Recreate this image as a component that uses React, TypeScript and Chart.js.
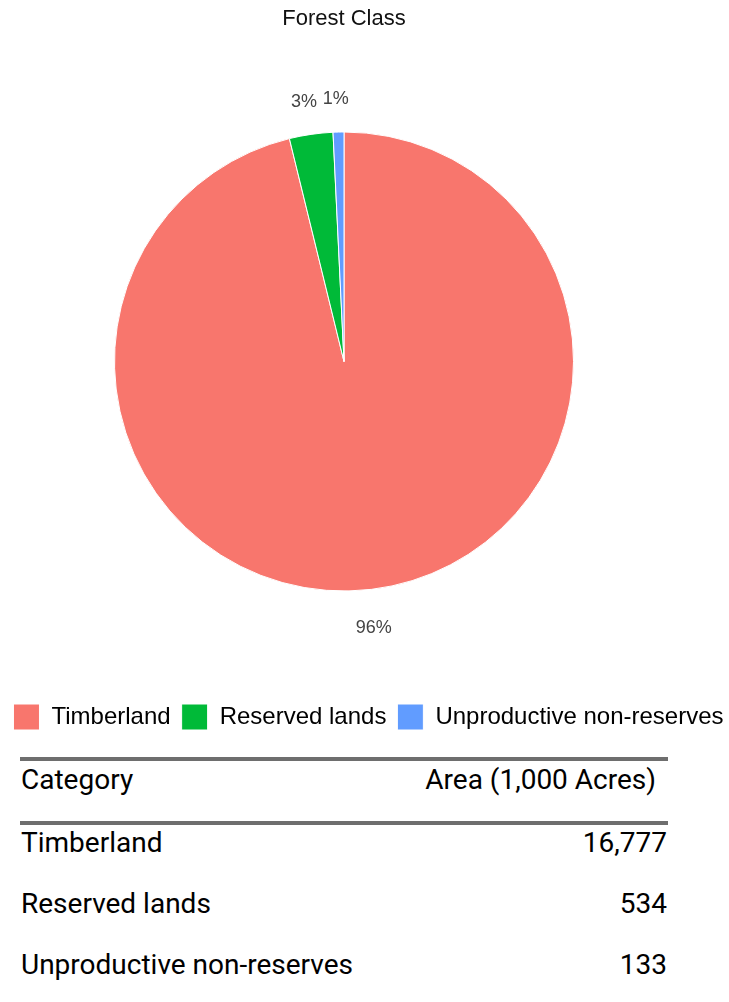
import React, { useEffect, useRef } from "react";
import { Chart, registerables } from "chart.js";

Chart.register(...registerables);

const categories = ["Timberland", "Reserved lands", "Unproductive non-reserves"];
const areaValues = [16777, 534, 133];
const areaLabels = ["16,777", "534", "133"];
const sliceColors = ["#F8766D", "#00BA38", "#619CFF"];
const chartTitle = "Forest Class";
const tableHeaders = ["Category", "Area (1,000 Acres)"];

const PIE_CX = 344;
const PIE_CY = 361.5;
const PIE_R = 230;
const CANVAS_W = 729;
const CANVAS_H = 740;

const pieGeometry = {
  id: "pieGeometry",
  afterLayout(chart: any) {
    chart.chartArea = {
      left: PIE_CX - PIE_R,
      right: PIE_CX + PIE_R,
      top: PIE_CY - PIE_R,
      bottom: PIE_CY + PIE_R,
      width: PIE_R * 2,
      height: PIE_R * 2,
    };
    if (chart.titleBlock) {
      chart.titleBlock.left = 0;
      chart.titleBlock.right = PIE_CX * 2;
      chart.titleBlock.width = PIE_CX * 2;
    }
  },
};

const percentLabels = {
  id: "percentLabels",
  afterDatasetsDraw(chart: any) {
    const meta = chart.getDatasetMeta(0);
    const data: number[] = chart.data.datasets[0].data;
    const total = data.reduce((a, b) => a + b, 0);
    const ctx = chart.ctx;
    ctx.save();
    ctx.font = '18px "Liberation Sans", Arial, sans-serif';
    ctx.fillStyle = "#444444";
    ctx.textAlign = "center";
    ctx.textBaseline = "middle";
    meta.data.forEach((arc: any, i: number) => {
      const p = arc.getProps(["x", "y", "startAngle", "endAngle", "outerRadius"], true);
      const mid = (p.startAngle + p.endAngle) / 2;
      const rl = p.outerRadius * 1.155;
      ctx.fillText(
        Math.round((data[i] / total) * 100) + "%",
        p.x + Math.cos(mid) * rl - 2,
        p.y + Math.sin(mid) * rl + 3
      );
    });
    ctx.restore();
  },
};

function PieChart() {
  const ref = useRef<HTMLCanvasElement | null>(null);
  useEffect(() => {
    if (!ref.current) return;
    const chart = new Chart(ref.current, {
      type: "pie",
      data: {
        labels: categories,
        datasets: [
          {
            data: areaValues,
            backgroundColor: sliceColors,
            borderColor: "#ffffff",
            borderWidth: 1,
          },
        ],
      },
      options: {
        responsive: false,
        animation: false,
        devicePixelRatio: 1,
        layout: { padding: { left: -8, right: -16, top: 0, bottom: 0 } },
        plugins: {
          title: {
            display: true,
            text: chartTitle,
            color: "#111111",
            font: { family: '"Liberation Sans", Arial, sans-serif', size: 22, weight: "normal" },
            padding: { top: 6, bottom: 10 },
          },
          legend: {
            position: "bottom",
            labels: {
              boxWidth: 26,
              boxHeight: 26,
              padding: 11,
              color: "#000000",
              font: { family: '"Liberation Sans", Arial, sans-serif', size: 24 },
            },
          },
          tooltip: { enabled: false },
        },
      },
      plugins: [pieGeometry, percentLabels],
    } as any);
    return () => chart.destroy();
  }, []);
  return <canvas ref={ref} width={CANVAS_W} height={CANVAS_H} style={{ display: "block", width: CANVAS_W, height: CANVAS_H }} />;
}

const lineStyle: React.CSSProperties = { height: 4, background: "#6e6e6e" };

export default function App() {
  const font = 'Roboto, "Noto Sans", Arial, sans-serif';
  return (
    <div style={{ position: "absolute", left: 0, top: 0, width: 729, height: 1002, background: "#fff", overflow: "hidden" }}>
      <PieChart />
      <div style={{ position: "absolute", left: 20, top: 757, width: 648, fontFamily: font, fontSize: 28, color: "#000" }}>
        <div style={lineStyle} />
        <div style={{ height: 60, display: "flex", justifyContent: "space-between", lineHeight: "38px" }}>
          <span style={{ paddingLeft: 1 }}>{tableHeaders[0]}</span>
          <span style={{ paddingRight: 12 }}>{tableHeaders[1]}</span>
        </div>
        <div style={lineStyle} />
        {categories.map((c, i) => (
          <div key={c} style={{ height: 61, display: "flex", justifyContent: "space-between", lineHeight: "35px" }}>
            <span style={{ paddingLeft: 1 }}>{c}</span>
            <span style={{ paddingRight: 1 }}>{areaLabels[i]}</span>
          </div>
        ))}
      </div>
    </div>
  );
}
